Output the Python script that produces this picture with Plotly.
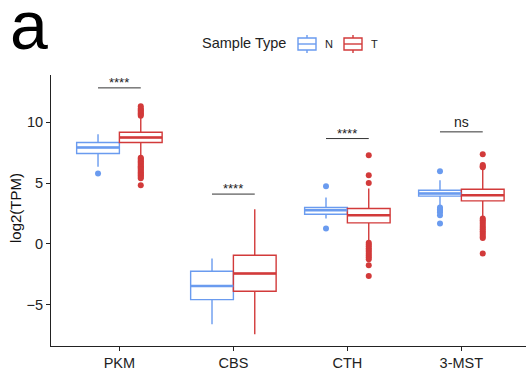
import plotly.graph_objects as go

categories = ["PKM", "CBS", "CTH", "3-MST"]
groups = ["N", "T"]
colors = {"N": "#6A9BEF", "T": "#D23A3A"}

# box statistics
q1 = {"N": [7.44, -4.58, 2.44, 3.93], "T": [8.35, -3.89, 1.73, 3.54]}
median = {"N": [7.93, -3.46, 2.77, 4.15], "T": [8.76, -2.44, 2.36, 4.01]}
q3 = {"N": [8.35, -2.25, 3.00, 4.42], "T": [9.19, -0.93, 2.91, 4.50]}
lowerfence = {"N": [6.34, -6.61, 2.09, 3.19], "T": [7.20, -7.43, 0.16, 2.22]}
upperfence = {"N": [9.03, -1.20, 3.82, 5.24], "T": [10.45, 2.86, 4.56, 6.20]}

# outliers per category
outliers = {
    "N": [
        [5.80],
        [],
        [4.75, 1.27],
        [5.98, 3.00, 2.85, 2.70, 2.60, 2.36, 1.68],
    ],
    "T": [
        [10.55, 10.65, 10.75, 10.85, 10.95, 11.05, 11.15, 11.33,
         7.10, 7.00, 6.90, 6.80, 6.70, 6.60, 6.50, 6.40, 6.30, 6.20, 6.10,
         6.00, 5.90, 5.80, 5.70, 5.60, 5.50, 5.40, 4.83],
        [],
        [5.02, 5.65, 7.30,
         0.10, -0.05, -0.20, -0.35, -0.50, -0.65, -0.80, -0.95, -1.10, -1.26,
         -1.75, -2.63],
        [6.30, 6.40, 6.50, 7.38,
         2.10, 1.95, 1.80, 1.65, 1.50, 1.35, 1.20, 1.05, 0.90, 0.75, 0.60, 0.49,
         -0.79],
    ],
}

sig_labels = ["****", "****", "****", "ns"]
sig_y = [12.84, 4.10, 8.67, 9.22]

W, H = 526, 376
ML, MR, MT, MB = 51, 0, 75, 30
PW, PH = W - ML - MR, H - MT - MB


def px_x(p):
    return (p - ML) / PW


def px_y(p):
    return (H - MB - p) / PH


dodge = 0.75
box_w = dodge / 2
offsets = {"N": -dodge / 4, "T": dodge / 4}
FONT = "Liberation Sans, Arial, sans-serif"

fig = go.Figure()
idx = list(range(len(categories)))
for g in groups:
    fig.add_trace(go.Box(
        x=idx, q1=q1[g], median=median[g], q3=q3[g],
        lowerfence=lowerfence[g], upperfence=upperfence[g],
        name=g, legendgroup=g, offsetgroup=g, showlegend=False,
        line=dict(color=colors[g], width=1.4),
        fillcolor="rgba(255,255,255,0)",
        whiskerwidth=0, boxpoints=False,
    ))
    # thicker median line as in ggplot
    for i, m in enumerate(median[g]):
        fig.add_shape(type="line", xref="x", yref="y",
                      x0=i + offsets[g] - box_w / 2, x1=i + offsets[g] + box_w / 2,
                      y0=m, y1=m, line=dict(color=colors[g], width=2.6))
for g in groups:
    xs, ys = [], []
    for i, vals in enumerate(outliers[g]):
        for v in vals:
            xs.append(i + offsets[g])
            ys.append(v)
    fig.add_trace(go.Scatter(
        x=xs, y=ys, mode="markers", legendgroup=g, showlegend=False,
        marker=dict(color=colors[g], size=6), hoverinfo="skip",
    ))

for i, (lab, yv) in enumerate(zip(sig_labels, sig_y)):
    fig.add_shape(type="line", xref="x", yref="y",
                  x0=i + offsets["N"], x1=i + offsets["T"], y0=yv, y1=yv,
                  line=dict(color="#333333", width=1))
    fig.add_annotation(x=i, y=yv, xref="x", yref="y", text=lab,
                       showarrow=False, yanchor="bottom",
                       yshift=-4 if lab.startswith("*") else 0,
                       font=dict(family=FONT, size=13 if lab.startswith("*") else 14, color="#222222"))

fig.add_annotation(x=px_x(8), y=px_y(25), xref="paper", yref="paper",
                   text="a", showarrow=False, xanchor="left", yanchor="middle",
                   font=dict(family=FONT, size=68, color="#000000"))
fig.add_annotation(x=px_x(15), y=px_y(208), xref="paper", yref="paper",
                   text="log2(TPM)", showarrow=False, textangle=-90,
                   xanchor="center", yanchor="middle",
                   font=dict(family=FONT, size=15, color="#111111"))

# legend drawn in ggplot style (box key with median and whisker stubs)
fig.add_annotation(x=px_x(288), y=px_y(43), xref="paper", yref="paper",
                   text="Sample Type", showarrow=False,
                   xanchor="right", yanchor="middle",
                   font=dict(family=FONT, size=14.5, color="#222222"))
legend_key_x = {"N": 298, "T": 344}
key_w, key_top, key_bot, key_mid = 18, 38, 50, 44
for g in groups:
    x0 = legend_key_x[g]
    xc = x0 + key_w / 2
    kw = dict(xref="paper", yref="paper", line=dict(color=colors[g], width=1.4))
    fig.add_shape(type="rect", x0=px_x(x0), x1=px_x(x0 + key_w),
                  y0=px_y(key_top), y1=px_y(key_bot), **kw)
    fig.add_shape(type="line", x0=px_x(x0), x1=px_x(x0 + key_w),
                  y0=px_y(key_mid), y1=px_y(key_mid), **kw)
    fig.add_shape(type="line", x0=px_x(xc), x1=px_x(xc),
                  y0=px_y(key_top - 3), y1=px_y(key_top), **kw)
    fig.add_shape(type="line", x0=px_x(xc), x1=px_x(xc),
                  y0=px_y(key_bot), y1=px_y(key_bot + 3), **kw)
    fig.add_annotation(x=px_x(x0 + key_w + 7), y=px_y(key_mid), xref="paper", yref="paper",
                       text=g, showarrow=False, xanchor="left", yanchor="middle",
                       font=dict(family=FONT, size=11, color="#222222"))

fig.update_layout(
    width=W, height=H,
    margin=dict(l=ML, r=MR, t=MT, b=MB),
    paper_bgcolor="white", plot_bgcolor="white",
    boxmode="group", boxgap=0.25, boxgroupgap=0,
    font=dict(family=FONT, color="#222222"),
    showlegend=False,
    xaxis=dict(
        range=[-0.6, 3.567], tickmode="array", tickvals=idx, ticktext=categories,
        showline=True, linecolor="#222222", linewidth=1, ticks="outside",
        ticklen=4, tickcolor="#222222", showgrid=False, zeroline=False,
        tickfont=dict(size=14.5, color="#222222"), automargin=False,
    ),
    yaxis=dict(
        range=[-8.4, 13.9], tickvals=[-5, 0, 5, 10],
        showline=True, linecolor="#222222", linewidth=1, ticks="outside",
        ticklen=4, tickcolor="#222222", showgrid=False, zeroline=False,
        tickfont=dict(size=14.5, color="#222222"), automargin=False,
    ),
)

fig.write_html("out.html", config={"displayModeBar": False},
               post_script="document.body.style.margin='0';")
